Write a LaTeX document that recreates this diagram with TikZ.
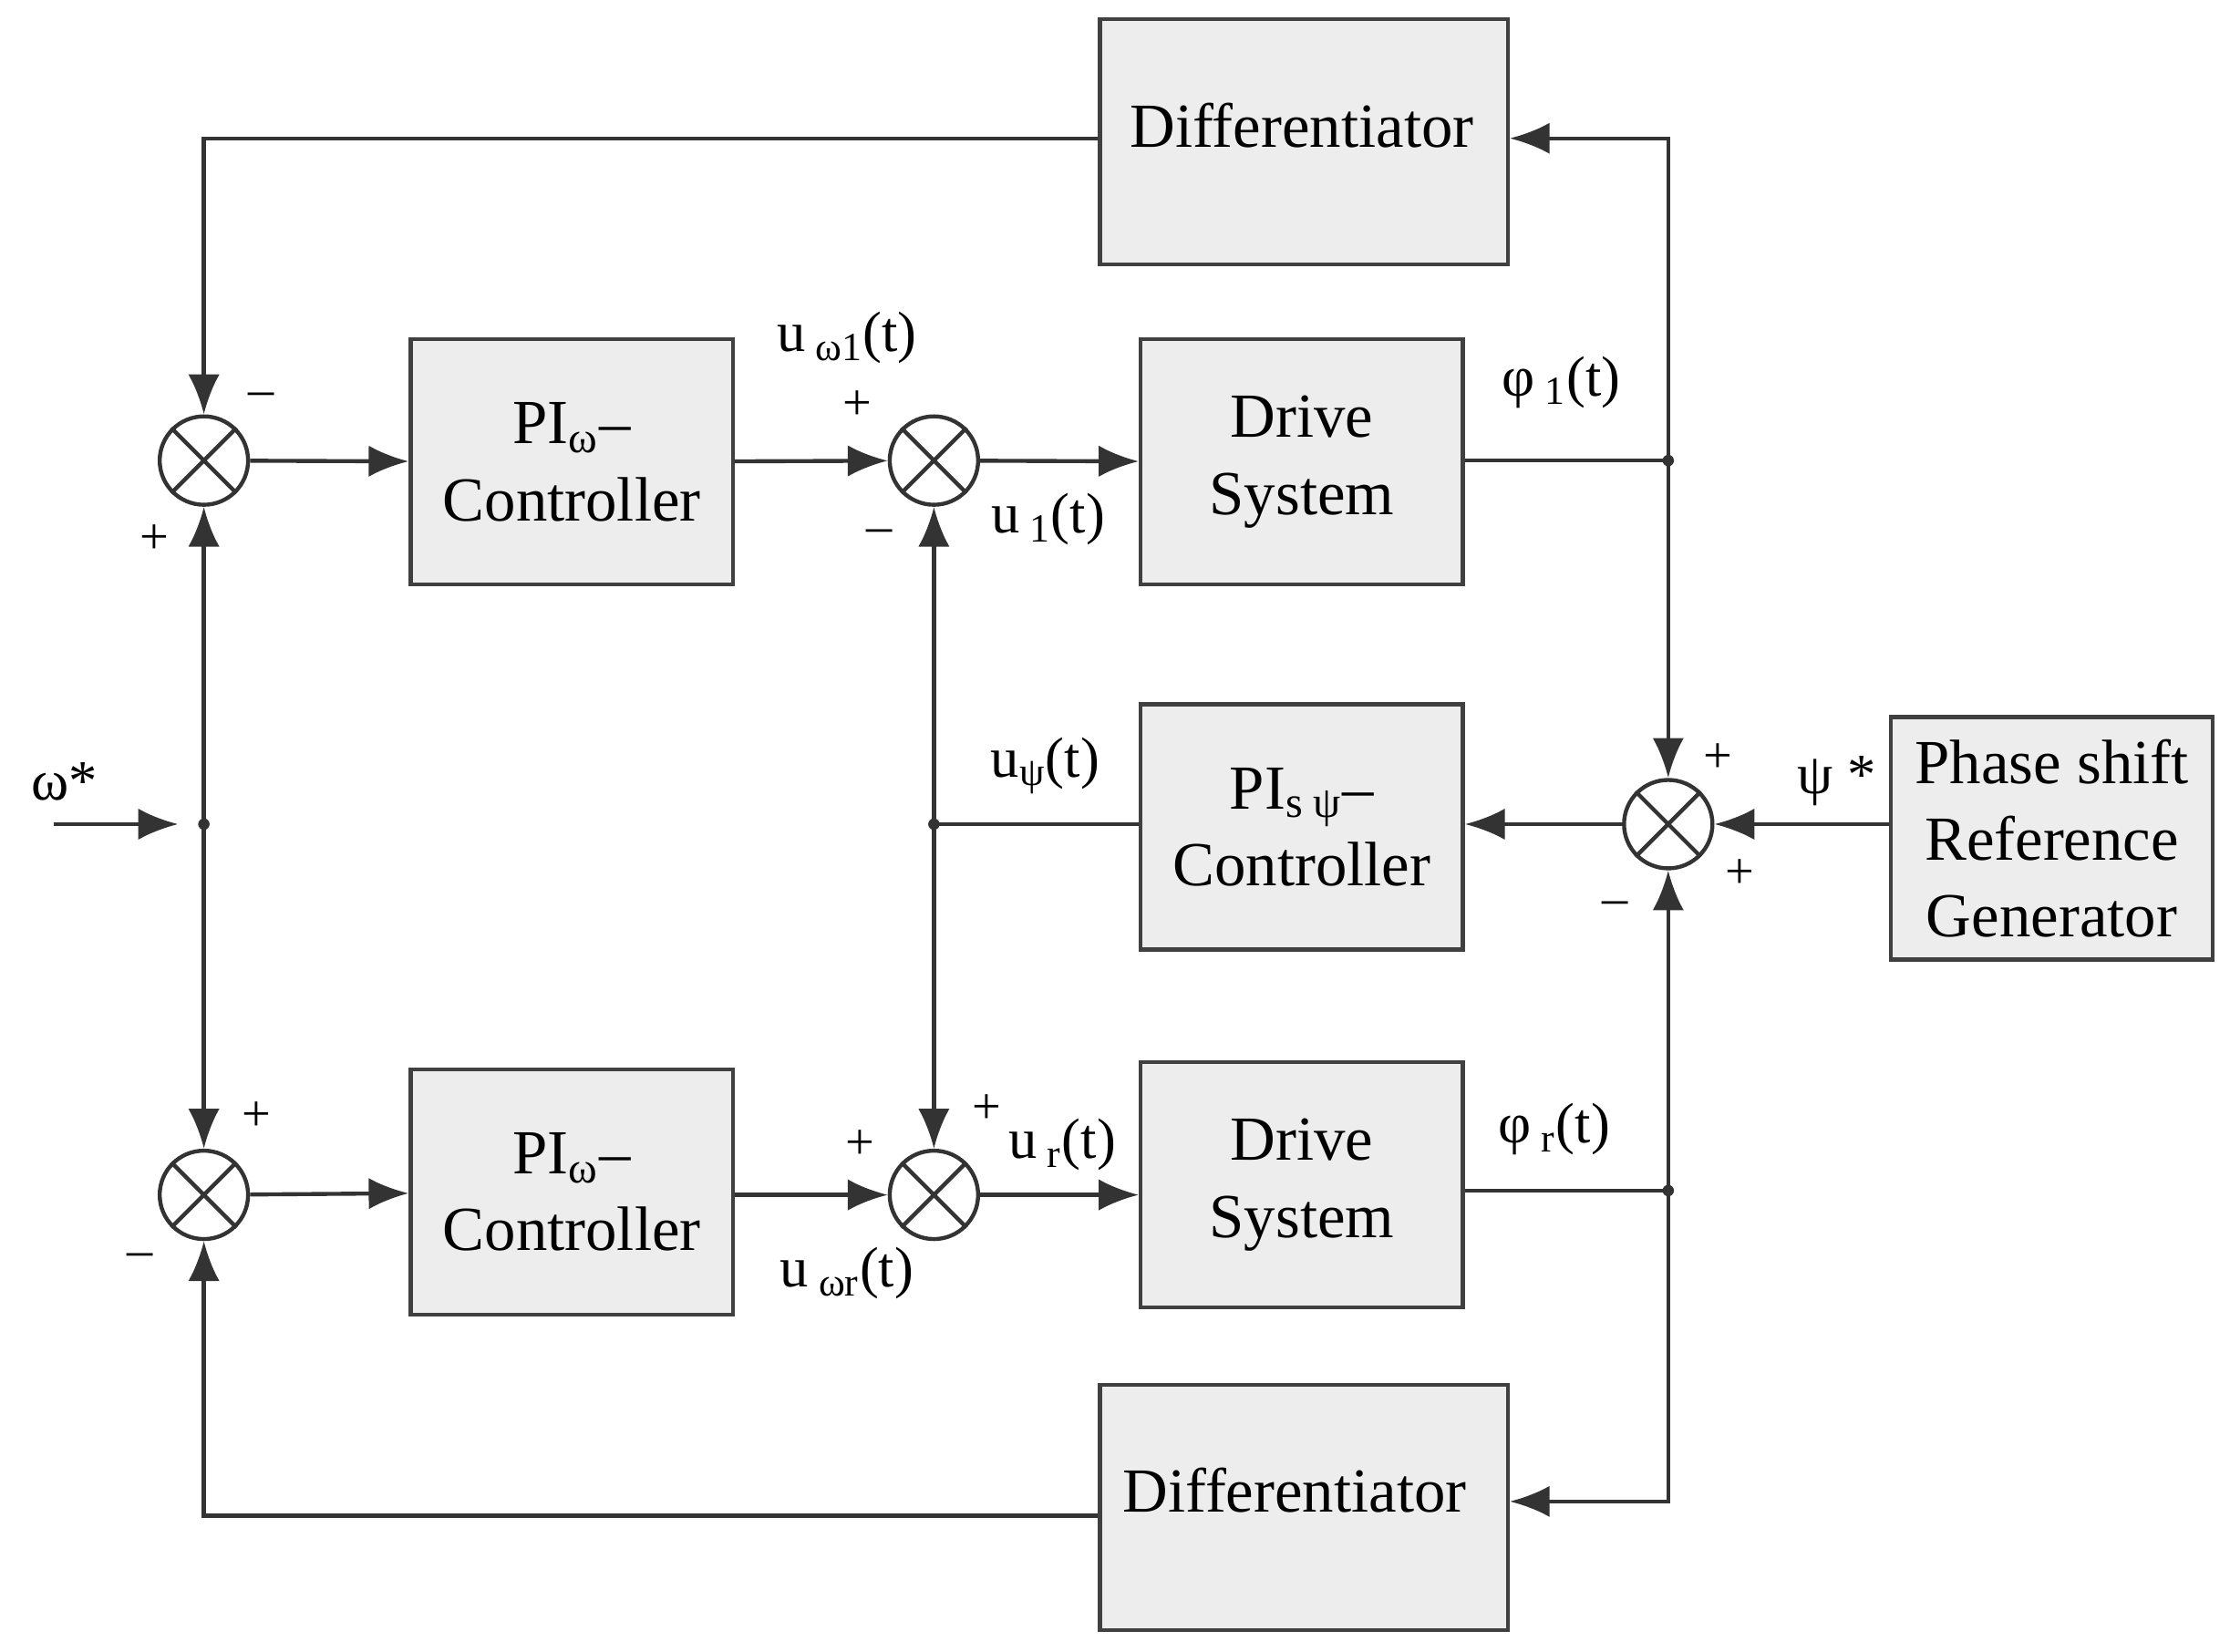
\documentclass[tikz,border=0pt]{standalone}
\usepackage{fontspec}
\setmainfont{Liberation Serif}
\usetikzlibrary{arrows.meta}
\begin{document}
\begin{tikzpicture}[x=0.5pt,y=-0.5pt,
 line/.style={draw=black!80,line width=1.4pt},
 arr/.style={line,-{Latex[length=14pt,width=11pt]}},
 blk/.style={draw=black!75,line width=1.4pt,fill=black!7,minimum width=113pt,minimum height=86pt,inner sep=0pt,align=center,font=\fontsize{22}{27}\selectfont},
 sum/.style={circle,draw=black!80,line width=1.4pt,minimum size=31pt,inner sep=0pt},
 lab/.style={font=\fontsize{20}{24}\selectfont,inner sep=1pt},
 sg/.style={font=\fontsize{18}{20}\selectfont,inner sep=0pt}]
\useasboundingbox (0,0) rectangle (1564,1158);
\node[blk,anchor=north west,minimum width=143pt] (dt) at (770,12) {};
\node[font=\fontsize{22}{27}\selectfont] at (913,88) {Differentiator};
\node[blk,anchor=north west,minimum width=143pt] (db) at (770,970) {};
\node[font=\fontsize{22}{27}\selectfont] at (908,1045) {Differentiator};
\node[blk] (pt) at (401,324) {PI\textsubscript{ω}–\\Controller};
\node[blk] (pb) at (401,836) {PI\textsubscript{ω}–\\Controller};
\node[blk] (ds1) at (913,324) {Drive\\System};
\node[blk] (ds2) at (913,831) {Drive\\System};
\node[blk] (ppsi) at (913,580) {PI\textsubscript{s ψ}–\\Controller};
\node[blk,minimum height=85pt] (gen) at (1439,588) {Phase shift\\Reference\\Generator};
\node[sum] (s1) at (143,323) {};
\node[sum] (s2) at (655,323) {};
\node[sum] (s3) at (143,838) {};
\node[sum] (s4) at (655,838) {};
\node[sum] (s5) at (1170,578) {};
\foreach \s in {s1,s2,s3,s4,s5}{\draw[line] (\s.north west)--(\s.south east) (\s.north east)--(\s.south west);}
\coordinate (win) at (38,578);
\coordinate (jw) at (143,578);
\coordinate (jpsi) at (655,578);
\coordinate (j1) at (1170,323);
\coordinate (j2) at (1170,835);
\draw[arr] (win) -- (125,578);
\draw[arr] (jw) -- (s1.south);
\draw[arr] (jw) -- (s3.north);
\fill[black!80] (jw) circle (2pt) (jpsi) circle (2pt) (j1) circle (2pt) (j2) circle (2pt);
\draw[arr] (dt.west|-0,97) -| (s1.north);
\draw[arr] (db.west|-0,1063) -| (s3.south);
\draw[arr] (s1) -- (pt);
\draw[arr] (pt) -- (s2);
\draw[arr] (s2) -- (ds1);
\draw[arr] (s3) -- (pb);
\draw[arr] (pb.east|-s4) -- (s4);
\draw[arr] (s4) -- (ds2.west|-s4);
\draw[line] (ds1.east|-j1) -- (j1);
\draw[arr] (j1) |- (dt.east|-0,97);
\draw[arr] (j1) -- (s5.north);
\draw[line] (ds2.east|-j2) -- (j2);
\draw[arr] (j2) |- (db.east|-0,1053);
\draw[arr] (j2) -- (s5.south);
\draw[arr] (gen.west|-s5) -- (s5);
\draw[arr] (s5) -- (ppsi.east|-s5);
\draw[line] (ppsi.west|-jpsi) -- (jpsi);
\draw[arr] (jpsi) -- (s2.south);
\draw[arr] (jpsi) -- (s4.north);
\node[sg] at (183,280) {–};
\node[sg] at (108,378) {+};
\node[lab] at (594,237) {u\textsubscript{ ω1}(t)};
\node[sg] at (601,284) {+};
\node[sg] at (617,376) {–};
\node[lab] at (735,364) {u\textsubscript{ 1}(t)};
\node[lab] at (1095,268) {φ\textsubscript{ 1}(t)};
\node[lab] at (733,537) {u\textsubscript{ψ}(t)};
\node[sg] at (1205,532) {+};
\node[lab] at (1288,548) {ψ *};
\node[sg] at (1220,613) {+};
\node[sg] at (1133,637) {–};
\node[lab] at (45,548) {ω*};
\node[sg] at (180,783) {+};
\node[sg] at (98,884) {–};
\node[sg] at (603,803) {+};
\node[sg] at (692,778) {+};
\node[lab] at (745,803) {u\textsubscript{ r}(t)};
\node[lab] at (594,893) {u\textsubscript{ ωr}(t)};
\node[lab] at (1090,792) {φ\textsubscript{ r}(t)};
\end{tikzpicture}
\end{document}
